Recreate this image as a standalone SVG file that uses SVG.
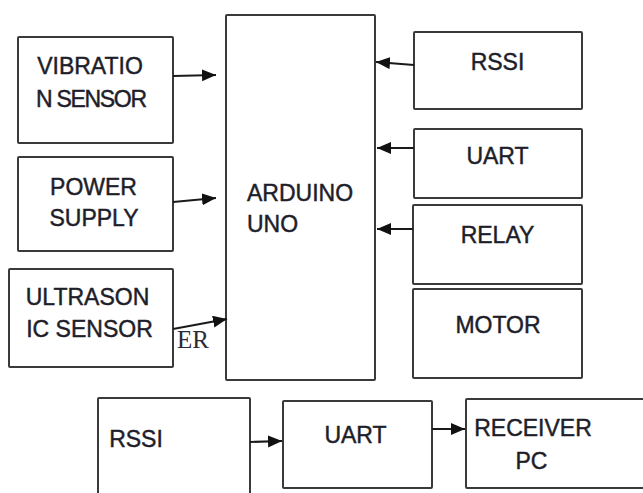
<svg xmlns="http://www.w3.org/2000/svg" width="643" height="493" viewBox="0 0 643 493">
<style>
.box{fill:#fff;stroke:#3a3a3a;stroke-width:2;}
.t{font-family:"Liberation Sans",Arial,sans-serif;font-size:23px;fill:#1e1e2a;stroke:#1e1e2a;stroke-width:0.45;}
.m{text-anchor:middle;}
.con{stroke:#1a1a1a;stroke-width:2;fill:none;marker-end:url(#ah);}
.er{font-family:"Liberation Serif","Times New Roman",serif;font-size:25px;fill:#2a2a3a;}
</style>
<defs>
<marker id="ah" markerUnits="userSpaceOnUse" markerWidth="15" markerHeight="13" refX="14" refY="6" orient="auto">
<path d="M0,0 L14,6 L0,12 z" fill="#111"/>
</marker>
</defs>
<rect width="643" height="493" fill="#fff"/>
<text class="er" x="177" y="348">ER</text>
<g id="vibration">
<rect class="box" x="18" y="37" width="155" height="106" rx="1"/>
<text class="t m" x="90" y="74">VIBRATIO</text>
<text class="t m" x="91.5" y="107" textLength="111">N SENSOR</text>
</g>
<g id="power">
<rect class="box" x="18" y="157" width="155" height="94" rx="1"/>
<text class="t m" x="93.5" y="195">POWER</text>
<text class="t m" x="94" y="226">SUPPLY</text>
</g>
<g id="ultrasonic">
<rect class="box" x="9" y="269" width="164" height="98" rx="1"/>
<text class="t m" x="87.5" y="305">ULTRASON</text>
<text class="t m" x="89.5" y="337">IC SENSOR</text>
</g>
<g id="arduino">
<rect class="box" x="226" y="15" width="149" height="365" rx="1"/>
<text class="t" x="247" y="201">ARDUINO</text>
<text class="t" x="247" y="232">UNO</text>
</g>
<g id="rssi-top">
<rect class="box" x="414" y="32" width="168" height="77" rx="1"/>
<text class="t m" x="497.5" y="70">RSSI</text>
</g>
<g id="uart-top">
<rect class="box" x="414" y="129" width="168" height="69" rx="1"/>
<text class="t m" x="497.5" y="164">UART</text>
</g>
<g id="relay">
<rect class="box" x="413" y="205" width="169" height="79" rx="1"/>
<text class="t m" x="497.5" y="243">RELAY</text>
</g>
<g id="motor">
<rect class="box" x="413" y="289" width="169" height="89" rx="1"/>
<text class="t m" x="498" y="333">MOTOR</text>
</g>
<g id="rssi-bottom">
<rect class="box" x="98" y="398" width="152" height="110" rx="1"/>
<text class="t m" x="136" y="447">RSSI</text>
</g>
<g id="uart-bottom">
<rect class="box" x="283" y="401" width="149" height="87" rx="1"/>
<text class="t m" x="355.5" y="443">UART</text>
</g>
<g id="receiver">
<rect class="box" x="466" y="399" width="190" height="89" rx="1"/>
<text class="t m" x="533" y="436">RECEIVER</text>
<text class="t m" x="531.5" y="469">PC</text>
</g>
<g id="connectors">
<line class="con" x1="173" y1="76" x2="216" y2="75"/>
<line class="con" x1="173" y1="202" x2="216" y2="198"/>
<line class="con" x1="173" y1="329" x2="227" y2="319"/>
<line class="con" x1="414" y1="65" x2="376" y2="62"/>
<line class="con" x1="414" y1="148" x2="377" y2="148"/>
<line class="con" x1="413" y1="229" x2="377" y2="229"/>
<line class="con" x1="250" y1="442" x2="282" y2="441"/>
<line class="con" x1="432" y1="429" x2="465" y2="429"/>
</g>
</svg>
